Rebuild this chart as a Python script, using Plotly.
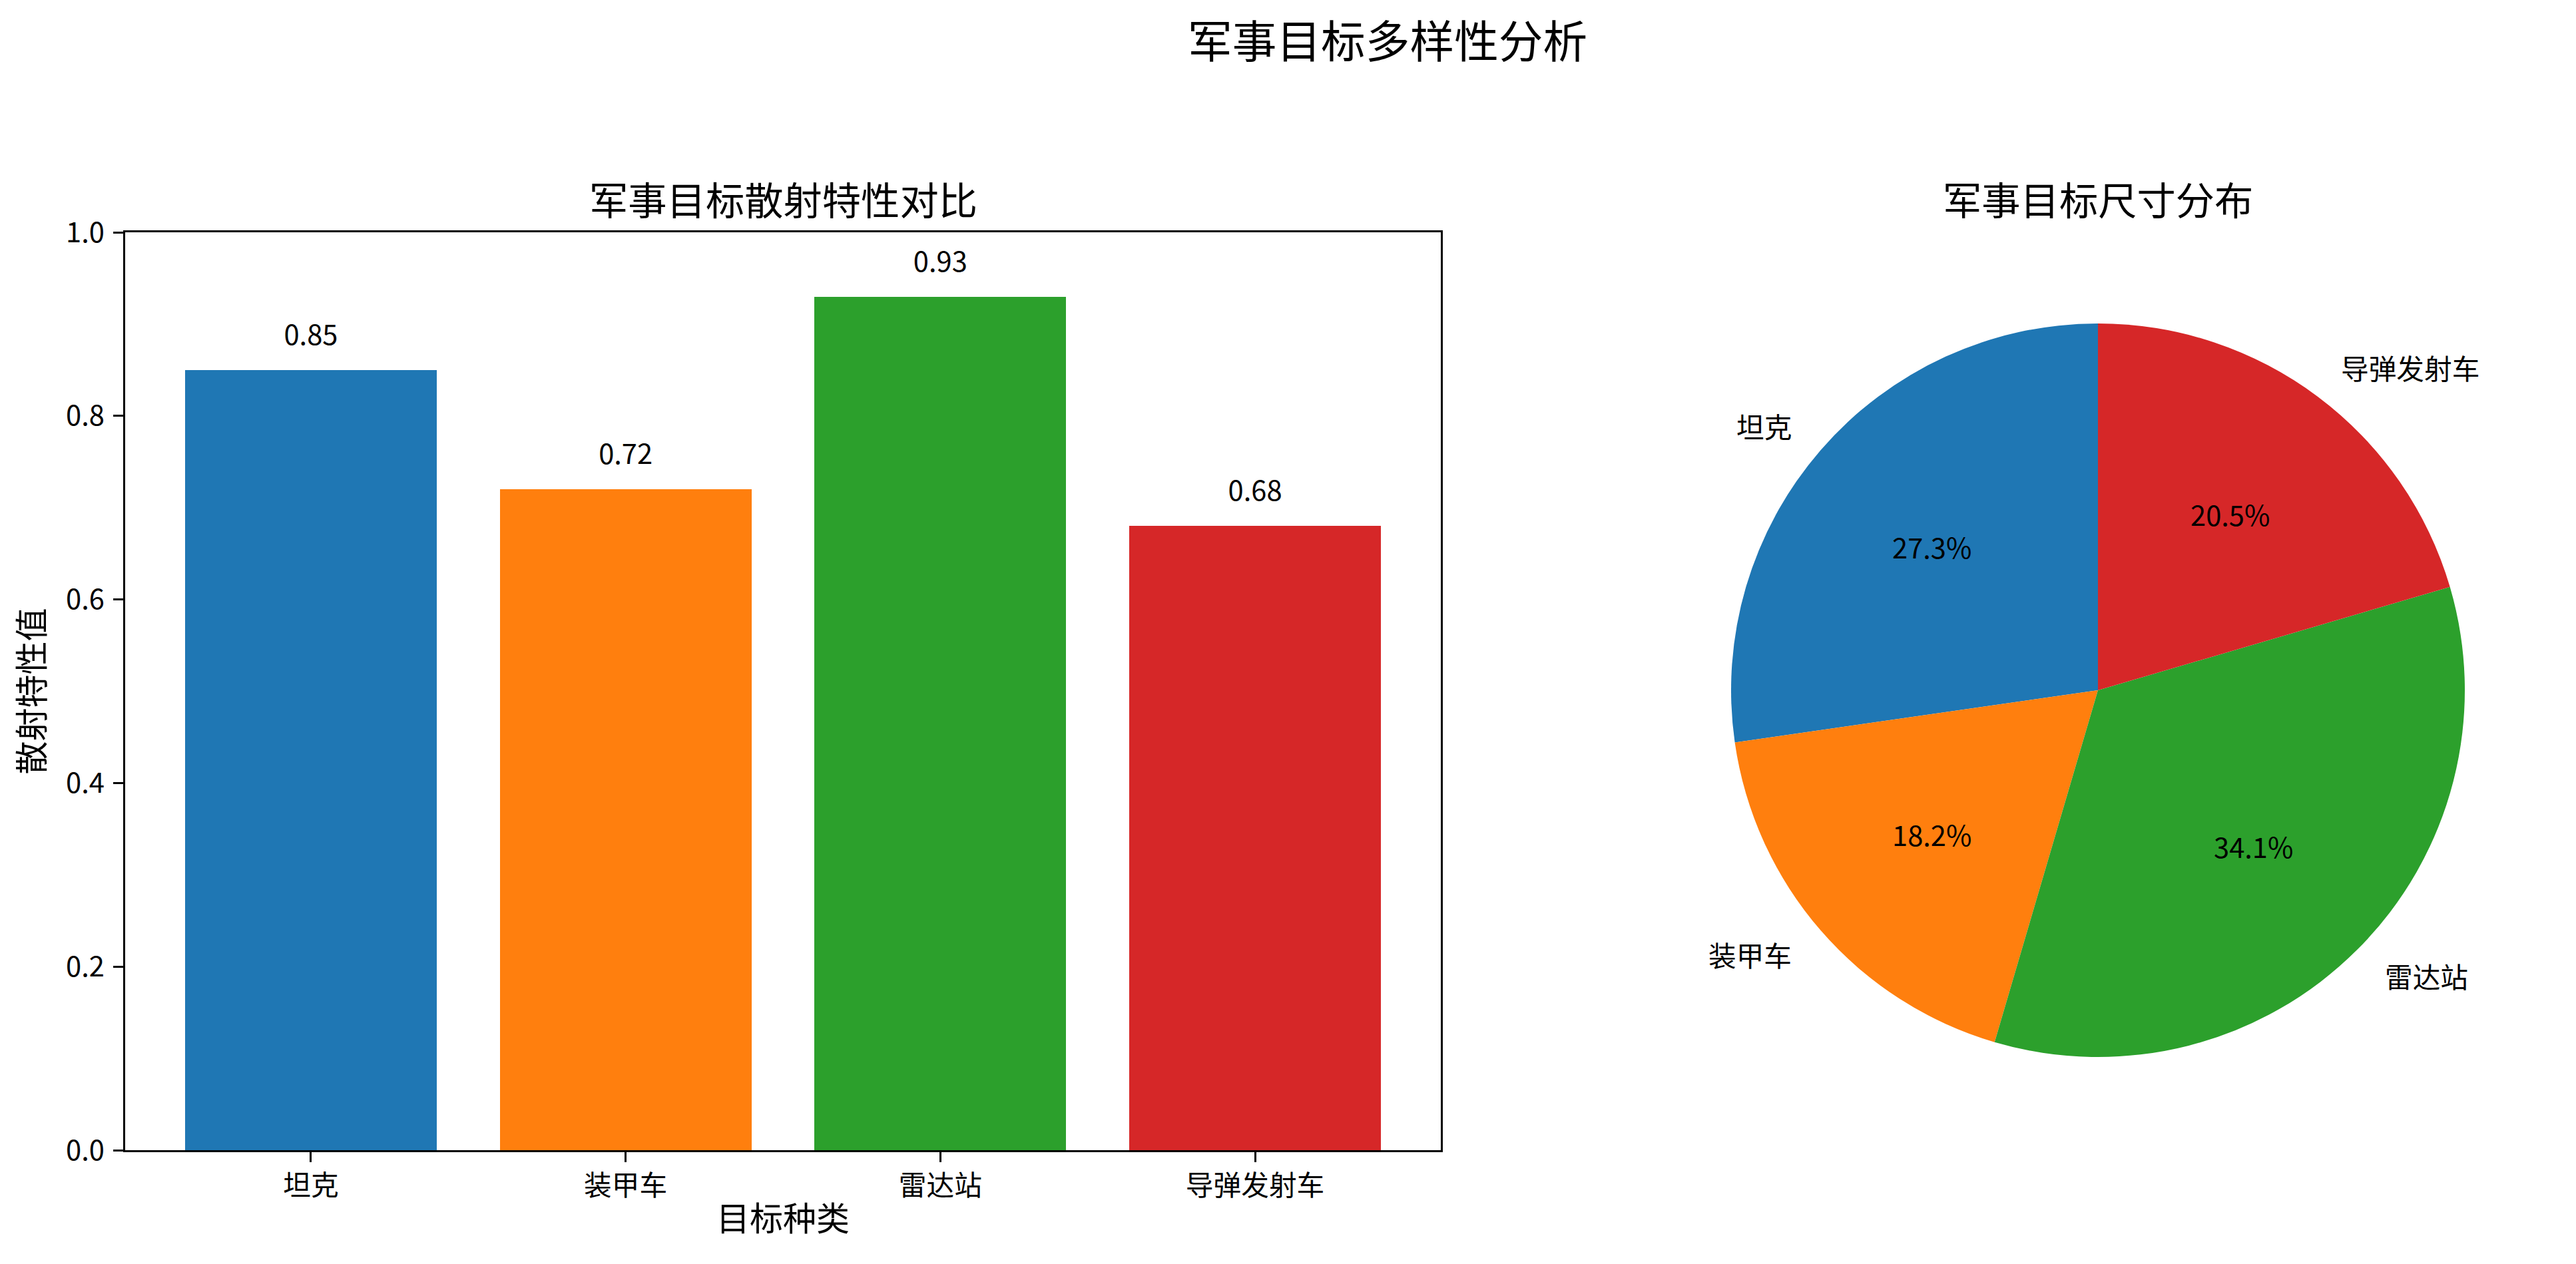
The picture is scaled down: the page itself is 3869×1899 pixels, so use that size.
import math
import plotly.graph_objects as go

# ---------------- data ----------------
categories = ["坦克", "装甲车", "雷达站", "导弹发射车"]
scatter_values = [0.85, 0.72, 0.93, 0.68]
size_values = [12, 8, 15, 9]
colors = ["#1f77b4", "#ff7f0e", "#2ca02c", "#d62728"]
y_ticks = [0.0, 0.2, 0.4, 0.6, 0.8, 1.0]

suptitle = "军事目标多样性分析"
bar_title = "军事目标散射特性对比"
pie_title = "军事目标尺寸分布"
x_label = "目标种类"
y_label = "散射特性值"

# ---------------- geometry ----------------
W, H = 3869, 1899
OFF = 8  # page body margin
FONT = "Noto Sans CJK SC, Noto Sans, DejaVu Sans, sans-serif"
TICK = 41.7
LAB = 50
TTL = 58.3
SUP = 66.7


def fx(px):
    return (px - OFF) / W


def fy(py):
    return 1 - (py - OFF) / H


# bar axes box (screen pixels)
bx0, bx1, by0, by1 = 188, 2164, 349, 1728
# pie center / radius (screen pixels)
pcx, pcy, pr = 3151, 1037, 551

fig = go.Figure()

fig.add_trace(go.Bar(
    x=list(range(len(categories))), y=scatter_values, width=0.8,
    marker=dict(color=colors, line=dict(width=0)), showlegend=False,
    hoverinfo="skip",
))
fig.add_trace(go.Scatter(
    x=list(range(len(categories))), y=[v + 0.02 for v in scatter_values],
    mode="text", text=[f"{v:.2f}" for v in scatter_values],
    textposition="top center", textfont=dict(size=TICK, color="black", family=FONT),
    showlegend=False, hoverinfo="skip", cliponaxis=False,
))

total = sum(size_values)
fig.add_trace(go.Pie(
    labels=categories, values=size_values, sort=False, direction="counterclockwise",
    rotation=-360.0 * size_values[0] / total,
    marker=dict(colors=colors, line=dict(width=0)), textinfo="none",
    domain=dict(x=[fx(pcx - pr), fx(pcx + pr)], y=[fy(pcy + pr), fy(pcy - pr)]),
    showlegend=False, hoverinfo="skip",
))

annotations = []
# pie labels & percents (matplotlib-style placement computed from data)
start = 90.0
for lab, v in zip(categories, size_values):
    ang = start + 360.0 * v / total / 2
    start += 360.0 * v / total
    c, s = math.cos(math.radians(ang)), math.sin(math.radians(ang))
    annotations.append(dict(
        x=fx(pcx + 1.1 * pr * c), y=fy(pcy - 1.1 * pr * s), xref="paper", yref="paper",
        text=lab, showarrow=False,
        xanchor="left" if c > 0 else "right", yanchor="middle",
        font=dict(size=TICK, color="black", family=FONT),
    ))
    annotations.append(dict(
        x=fx(pcx + 0.6 * pr * c), y=fy(pcy - 0.6 * pr * s), xref="paper", yref="paper",
        text=f"{100 * v / total:.1f}%",
        showarrow=False, xanchor="center", yanchor="middle",
        font=dict(size=TICK, color="black", family=FONT),
    ))

# titles
annotations.append(dict(x=fx((bx0 + bx1) / 2), y=fy(298), xref="paper", yref="paper",
                        text=bar_title, showarrow=False, xanchor="center", yanchor="middle",
                        font=dict(size=TTL, color="black", family=FONT)))
annotations.append(dict(x=fx(pcx), y=fy(298), xref="paper", yref="paper",
                        text=pie_title, showarrow=False, xanchor="center", yanchor="middle",
                        font=dict(size=TTL, color="black", family=FONT)))
annotations.append(dict(x=fx(2084), y=1.0, xref="paper", yref="paper",
                        text=suptitle, showarrow=False, xanchor="center", yanchor="top",
                        font=dict(size=SUP, color="black", family=FONT)))

fig.update_layout(
    template="none",
    width=W, height=H, autosize=False,
    margin=dict(l=0, r=0, t=0, b=0, pad=0, autoexpand=False),
    paper_bgcolor="white", plot_bgcolor="white",
    font=dict(family=FONT, color="black", size=TICK),
    annotations=annotations,
    bargap=0,
    xaxis=dict(
        domain=[fx(bx0), fx(bx1)], range=[-0.59, 3.59], automargin=False,
        tickmode="array", tickvals=list(range(len(categories))), ticktext=categories,
        ticks="outside", ticklen=14.6, tickwidth=3.3, tickcolor="black",
        showline=True, linecolor="black", linewidth=3.3, mirror=True,
        showgrid=False, zeroline=False,
        tickfont=dict(size=TICK, family=FONT, color="black"),
        title=dict(text=x_label, font=dict(size=LAB, family=FONT, color="black"), standoff=8),
    ),
    yaxis=dict(
        domain=[fy(by1), fy(by0)], range=[0, 1], automargin=False,
        tickmode="array", tickvals=y_ticks, ticktext=[f"{t:.1f}" for t in y_ticks],
        ticks="outside", ticklen=14.6, tickwidth=3.3, tickcolor="black",
        ticklabelstandoff=5,
        showline=True, linecolor="black", linewidth=3.3, mirror=True,
        showgrid=False, zeroline=False,
        tickfont=dict(size=TICK, family=FONT, color="black"),
        title=dict(text=y_label, font=dict(size=LAB, family=FONT, color="black"), standoff=22),
    ),
)

fig.write_html("out.html")
